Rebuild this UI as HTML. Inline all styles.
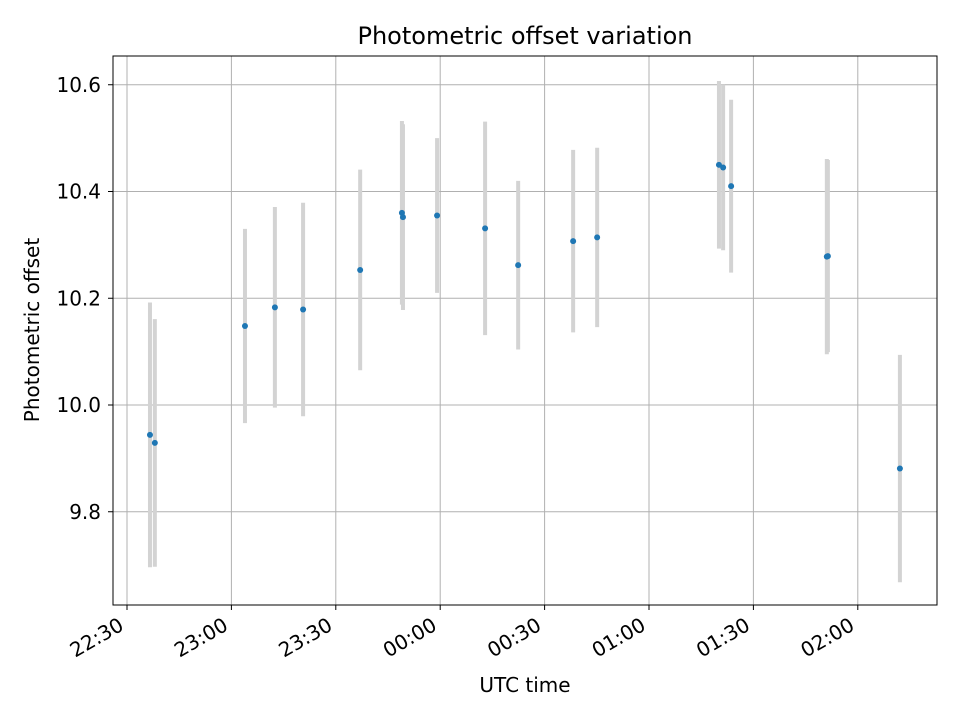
<!DOCTYPE html>
<html><head><meta charset="utf-8"><style>
body{margin:0;background:#fff;}
svg text{font-family:"DejaVu Sans","Liberation Sans",sans-serif;fill:#000;}
</style></head><body>
<svg id="chart" width="960" height="720" xmlns="http://www.w3.org/2000/svg">
<rect width="960" height="720" fill="#fff"/>
<g id="grid"></g>
<g id="errs"></g>
<g id="pts"></g>
<rect x="113" y="56" width="824" height="549" fill="none" stroke="#000" stroke-width="1"/>
<g id="ticks"></g>
<text x="525" y="44" font-size="24" text-anchor="middle">Photometric offset variation</text>
<text x="525" y="692" font-size="20" text-anchor="middle">UTC time</text>
<text x="39" y="330" font-size="20" text-anchor="middle" transform="rotate(-90 39 330)">Photometric offset</text>
</svg>
<script>
// minutes after 22:30
const times=[6.6,8.0,33.9,42.5,50.6,67.0,79.0,79.3,89.1,102.9,112.4,128.2,135.1,170.1,171.3,173.6,201.1,201.4,222.1];
const offsets=[9.944,9.929,10.148,10.183,10.179,10.253,10.360,10.352,10.355,10.331,10.262,10.307,10.314,10.450,10.445,10.410,10.278,10.279,9.881];
const errors=[0.248,0.232,0.182,0.188,0.200,0.188,0.172,0.174,0.145,0.200,0.158,0.171,0.168,0.157,0.155,0.162,0.183,0.180,0.213];
const xTickMinutes=[0,30,60,90,120,150,180,210];
const xTickLabels=["22:30","23:00","23:30","00:00","00:30","01:00","01:30","02:00"];
const yTicks=[9.8,10.0,10.2,10.4,10.6];
const NS="http://www.w3.org/2000/svg";
const X=m=>127+m*(104.4/30);
const Y=v=>405-(v-10)*(106.75/0.2);
function mk(tag,attrs,parent){const e=document.createElementNS(NS,tag);for(const k in attrs)e.setAttribute(k,attrs[k]);document.getElementById(parent).appendChild(e);return e;}
xTickMinutes.forEach((m,i)=>{
 const x=X(m);
 const g=mk('line',{x1:x,x2:x,y1:56,y2:605,stroke:'#b0b0b0','stroke-width':1},'grid');
 
 
 const t=mk('line',{x1:x,x2:x,y1:605,y2:610,stroke:'#000'},'ticks');
 
 
 const ax=x-2, ay=629;
 const l=mk('text',{x:ax,y:ay,'font-size':20,'text-anchor':'end',transform:`rotate(-30 ${ax} ${ay})`},'ticks');
 l.textContent=xTickLabels[i];
 
 
});
yTicks.forEach(v=>{
 const y=Y(v);
 const g=mk('line',{x1:113,x2:937,y1:y,y2:y,stroke:'#b0b0b0','stroke-width':1},'grid');
 
 
 const t=mk('line',{x1:108,x2:113,y1:y,y2:y,stroke:'#000'},'ticks');
 
 
 const l=mk('text',{x:101,y:y+7,'font-size':20,'text-anchor':'end'},'ticks');
 l.textContent=v.toFixed(1);
 
 
});
times.forEach((m,i)=>{
 const x=X(m);
 const e=mk('line',{x1:x,x2:x,y1:Y(offsets[i]+errors[i]),y2:Y(offsets[i]-errors[i]),stroke:'#d3d3d3','stroke-width':4},'errs');
 
 
});
times.forEach((m,i)=>{
 const p=mk('circle',{cx:X(m),cy:Y(offsets[i]),r:3,fill:'#1f77b4'},'pts');
 
 
});
</script>
</body></html>
